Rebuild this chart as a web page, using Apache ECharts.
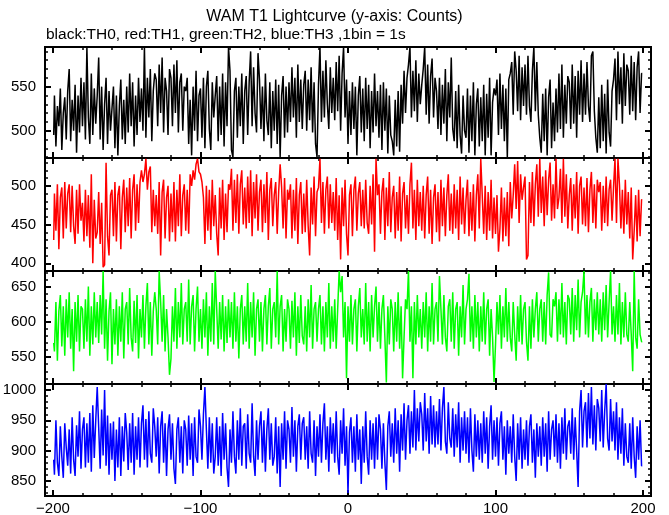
<!DOCTYPE html>
<html>
<head>
<meta charset="utf-8">
<script src="https://cdn.jsdelivr.net/npm/echarts@6/dist/echarts.min.js"></script>
<style>html,body{margin:0;padding:0;background:#fff}#c{width:669px;height:515px}</style>
</head>
<body>
<div id="c"></div>
<script>
// ---- data (1 s bins, t = -200 .. 199) ----
const binStart = -200;
const binSize = 1;
const th0 = [
495,540,482,528,505,548,478,520,538,490, 545,570,488,535,500,552,475,540,498,560,
505,555,490,595,515,485,565,495,548,508, 540,583,490,550,478,530,560,485,545,500,
525,550,480,540,472,528,558,490,535,485, 550,498,565,505,555,482,540,495,560,510,
548,500,595,492,560,515,570,488,545,565, 558,505,575,520,583,498,560,545,495,570,
560,505,575,520,580,498,555,565,500,550, 545,560,485,535,472,550,500,568,488,540,
548,492,560,480,550,568,502,478,555,515, 540,562,488,550,495,565,482,555,505,595,
568,478,470,545,560,492,550,505,565,485, 545,562,495,555,590,505,572,520,498,588,
558,502,550,488,565,512,495,555,480,545, 500,558,485,552,470,540,562,492,550,498,
555,510,572,515,560,492,575,510,558,502, 552,568,500,558,512,572,498,555,485,470,
552,595,510,568,515,580,530,502,572,520, 560,512,578,522,585,500,565,595,515,558,
485,545,495,555,502,550,472,540,562,498, 548,488,560,502,552,480,545,498,565,505,
545,492,552,478,555,500,548,474,540,495, 488,472,535,482,545,476,552,508,568,520,
560,575,595,515,568,522,580,510,565,530, 552,570,595,518,575,508,562,582,515,560,
545,502,560,495,552,508,570,488,555,515, 583,502,488,545,480,552,495,474,540,500,
492,548,475,540,488,555,472,530,548,482, 538,488,552,472,542,492,560,472,532,548,
540,558,495,565,502,552,488,548,470,558, 565,578,518,590,568,522,585,512,572,528,
575,518,585,528,510,568,595,522,578,518, 492,475,542,488,548,472,538,558,480,532,
488,548,498,565,502,575,492,552,508,562, 555,502,575,508,562,492,568,518,580,510,
565,518,578,528,510,585,590,522,492,475, 538,480,552,488,542,474,558,498,482,545,
558,582,512,590,530,572,508,588,528,575, 568,518,585,522,578,512,572,590,520,565
];
const th1 = [
430,490,442,502,418,485,498,432,505,445, 490,502,440,500,448,425,495,438,502,455,
478,428,495,435,488,420,515,400,482,432, 440,492,425,478,395,398,530,435,410,488,
495,435,505,428,488,500,418,485,508,440, 498,448,510,432,495,515,442,502,452,505,
520,505,515,535,495,518,525,440,495,448, 488,438,505,410,492,508,432,485,500,428,
490,440,505,428,495,448,515,435,488,502, 442,495,438,515,500,520,508,528,535,518,
515,505,485,425,500,442,495,430,508,448, 488,438,410,498,445,508,430,490,440,502,
495,522,442,508,452,515,438,502,520,450, 498,445,512,452,520,435,505,458,515,442,
492,508,440,502,452,518,430,495,510,448, 488,505,438,492,528,498,445,510,432,495,
482,502,432,495,442,510,425,488,505,438, 490,440,508,448,410,498,450,512,435,492,
498,535,452,505,438,495,512,445,502,452, 492,442,510,430,488,405,498,448,508,438,
410,488,502,435,495,512,442,490,505,448, 495,445,508,452,438,500,450,515,415,535,
488,502,438,492,510,430,498,448,518,440, 485,500,432,492,442,512,428,490,505,445,
488,438,502,530,445,495,430,508,448,492, 442,500,432,488,512,438,495,425,485,502,
440,492,428,508,448,498,435,488,515,442, 490,438,502,445,495,430,512,450,498,438,
482,508,435,492,442,502,428,488,515,445, 535,488,438,500,430,492,442,508,432,485,
438,488,415,445,498,428,485,435,492,422, 505,458,488,528,470,532,452,515,482,498,
512,405,410,505,452,518,448,502,528,460, 535,465,512,448,520,462,508,530,455,502,
458,535,470,485,522,452,535,460,515,445, 488,510,442,502,458,518,438,500,512,450,
498,448,510,440,495,518,452,502,445,508, 492,505,442,500,452,512,448,495,508,455,
498,535,452,535,502,445,495,438,508,450, 492,432,498,405,442,488,428,495,435,482
];
const th2 = [
570,558,628,545,615,638,565,622,552,632, 578,642,562,618,530,628,572,638,558,622,
618,562,632,572,650,552,622,568,642,578, 628,570,638,582,672,562,632,545,615,642,
540,618,568,632,552,622,572,642,548,618, 628,568,648,578,558,630,570,638,548,618,
578,638,562,622,655,568,628,552,615,642, 618,568,672,628,572,638,558,618,578,525,
548,622,572,648,562,628,578,655,568,618, 628,572,660,568,622,638,558,618,650,572,
618,562,632,578,642,552,622,572,655,568, 672,618,562,628,575,638,558,622,570,632,
578,628,562,642,572,622,548,618,638,568, 622,572,655,562,628,578,642,552,618,632,
572,628,558,618,638,568,622,648,562,618, 628,578,672,568,622,638,558,618,572,632,
618,562,630,578,642,552,622,570,638,580, 568,622,558,632,578,652,562,618,628,572,
618,638,568,622,558,628,578,655,562,622, 572,632,562,618,672,642,665,578,628,520,
622,572,638,568,618,632,558,622,648,578, 618,568,655,572,628,558,638,578,622,650,
572,628,562,618,638,578,514,622,568,632, 618,558,628,572,642,562,622,520,578,632,
618,672,572,622,520,628,568,638,578,618, 562,628,578,642,558,622,572,655,568,618,
628,572,665,618,568,638,578,558,622,632, 572,642,562,618,628,552,622,578,652,568,
618,632,668,572,622,562,638,578,628,558, 622,572,642,568,618,632,552,618,578,515,
568,628,582,638,562,622,578,648,572,628, 578,558,628,582,545,622,572,638,568,618,
628,572,545,622,562,632,578,618,642,572, 618,632,572,628,568,638,670,582,578,632,
622,642,572,632,582,655,578,628,568,638, 632,582,648,572,638,588,660,578,628,642,
672,582,638,578,628,648,572,632,588,642, 582,632,572,642,588,652,578,628,672,582,
622,572,638,582,655,568,628,578,642,582, 572,628,582,530,672,578,562,632,582,572
];
const th3 = [
885,860,950,880,858,940,890,855,945,905, 875,935,862,955,885,858,942,890,965,870,
935,955,872,945,880,962,865,975,888,950, 1005,938,870,968,892,1000,875,958,860,945,
885,948,850,935,872,955,858,940,882,962, 930,868,945,880,962,860,940,885,955,872,
945,975,885,952,872,965,895,880,970,940, 890,955,862,940,965,880,945,858,935,960,
885,945,870,845,935,955,880,940,862,950, 935,875,958,885,945,858,955,890,880,968,
940,885,960,1005,935,870,955,880,945,862, 890,955,875,940,858,962,885,945,872,840,
935,880,965,890,862,950,885,970,875,940, 945,870,960,895,880,978,890,858,950,885,
940,965,880,950,865,935,970,885,945,875, 890,955,862,940,840,945,885,965,870,950,
935,880,972,890,950,865,940,960,885,945, 955,885,940,870,965,895,880,950,858,940,
890,960,880,945,978,885,940,865,955,895, 945,880,965,890,860,950,895,970,875,940,
830,930,955,880,940,865,960,885,935,845, 940,880,965,890,860,950,885,945,870,955,
885,960,935,870,945,880,835,940,965,890, 945,880,970,895,950,865,960,900,978,885,
950,975,895,965,905,1000,900,970,915,980, 960,900,995,915,970,895,990,910,975,905,
965,910,985,900,970,1005,915,895,980,920, 905,970,890,960,905,980,880,955,900,965,
895,955,880,970,900,865,960,890,950,885, 945,880,965,895,955,870,940,975,885,950,
890,955,875,945,965,885,940,860,950,895, 940,880,960,890,850,945,885,955,870,935,
885,950,875,940,960,880,935,855,945,890, 940,875,955,890,945,865,965,885,935,950,
890,960,880,945,870,955,895,970,885,940, 950,895,970,885,955,900,840,965,1000,905,
965,980,905,995,920,1005,910,975,900,985, 970,915,1000,905,965,1010,920,900,985,915,
965,900,980,885,955,895,970,875,945,890, 880,945,870,955,890,855,940,885,950,875
];
const seriesData = [th0, th1, th2, th3];
const seriesColors = ['#000000', '#ff0000', '#00ff00', '#0000ff'];

// ---- axes / ticks ----
const xRange = [-205.4, 205.4];
const xMajorTicks = [-200, -100, 0, 100, 200];
const xMinorTicks = [-180,-160,-140,-120,-80,-60,-40,-20,20,40,60,80,120,140,160,180];
const yRanges = [[469, 595], [390, 536], [512, 672], [825, 1010]];
const yMajorTicks = [
  [500, 550],
  [400, 450, 500],
  [550, 600, 650],
  [850, 900, 950, 1000]
];
const yMinorTicks = [
  [470,480,490,510,520,530,540,560,570,580,590],
  [410,420,430,440,460,470,480,490,510,520,530],
  [520,530,540,560,570,580,590,610,620,630,640,660,670],
  [830,840,860,870,880,890,910,920,930,940,960,970,980,990]
];
const titleText = 'WAM T1 Lightcurve (y-axis: Counts)';
const subtitleText = 'black:TH0, red:TH1, green:TH2, blue:TH3 ,1bin = 1s';

// ---- layout ----
const gridBoxes = [[47, 111], [158, 113], [271, 113], [384, 112]];
const FONT = 'Liberation Sans, Arial, Helvetica, sans-serif';

const grids = [], xAxes = [], yAxes = [], series = [];
const fmtMinus = v => String(v).replace('-', '\u2212');

gridBoxes.forEach((b, g) => {
  grids.push({left: 45, right: 18, top: b[0], height: b[1], containLabel: false, outerBoundsMode: 'none', show: false});
  const isLast = g === gridBoxes.length - 1;
  const mkX = (pos, ticks, len, labels) => ({
    type: 'value', gridIndex: g, position: pos, min: xRange[0], max: xRange[1],
    axisLine: {show: true, onZero: false, lineStyle: {color: '#000', width: 2}},
    axisTick: {show: true, inside: true, length: len, customValues: ticks, lineStyle: {color: '#000', width: len > 4 ? 2 : 1.5}},
    axisLabel: {show: labels, customValues: xMajorTicks, formatter: fmtMinus, color: '#000', fontSize: 15, fontFamily: FONT, margin: 5},
    splitLine: {show: false}, minorTick: {show: false}
  });
  xAxes.push(mkX('bottom', xMajorTicks, 6, isLast));
  xAxes.push(mkX('bottom', xMinorTicks, 3, false));
  xAxes.push(mkX('top', xMajorTicks, 6, false));
  xAxes.push(mkX('top', xMinorTicks, 3, false));
  const mkY = (pos, ticks, len, labels) => ({
    type: 'value', gridIndex: g, position: pos, min: yRanges[g][0], max: yRanges[g][1],
    axisLine: {show: true, onZero: false, lineStyle: {color: '#000', width: 2}},
    axisTick: {show: true, inside: true, length: len, customValues: ticks, lineStyle: {color: '#000', width: len > 4 ? 2 : 1.5}},
    axisLabel: {show: labels, customValues: yMajorTicks[g], formatter: v => String(v), color: '#000', fontSize: 15, fontFamily: FONT, margin: 9},
    splitLine: {show: false}, minorTick: {show: false}
  });
  yAxes.push(mkY('left', yMajorTicks[g], 6, true));
  yAxes.push(mkY('left', yMinorTicks[g], 3, false));
  yAxes.push(mkY('right', yMajorTicks[g], 6, false));
  yAxes.push(mkY('right', yMinorTicks[g], 3, false));

  series.push({
    type: 'line', xAxisIndex: g * 4, yAxisIndex: g * 4, step: 'middle',
    data: seriesData[g].map((v, i) => [binStart + (i + 0.5) * binSize, v]),
    showSymbol: false, symbol: 'none', clip: true,
    lineStyle: {color: seriesColors[g], width: 1.5},
    emphasis: {disabled: true}, silent: true
  });
});

const chart = echarts.init(document.getElementById('c'), null, {renderer: 'canvas'});
chart.setOption({
  animation: false,
  backgroundColor: '#fff',
  title: [
    {text: titleText, left: 'center', top: 9, textStyle: {fontSize: 16, fontWeight: 'normal', color: '#000', fontFamily: FONT}, padding: 0},
    {text: subtitleText, left: 46, top: 27, textStyle: {fontSize: 15.5, fontWeight: 'normal', color: '#000', fontFamily: FONT}, padding: 0}
  ],
  grid: grids,
  xAxis: xAxes,
  yAxis: yAxes,
  series: series
});
</script>
</body>
</html>
